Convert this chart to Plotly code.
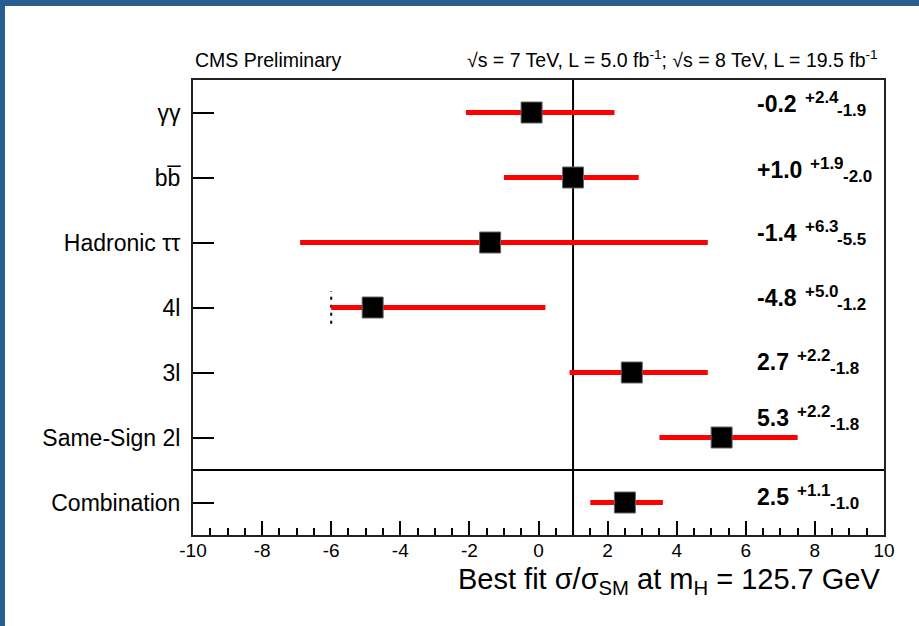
import plotly.graph_objects as go

# ---------------- data ----------------
channels = ["γγ", "bb\u0305", "Hadronic ττ", "4l", "3l", "Same-Sign 2l", "Combination"]
best_fit = [-0.2, 1.0, -1.4, -4.8, 2.7, 5.3, 2.5]
err_plus = [2.4, 1.9, 6.3, 5.0, 2.2, 2.2, 1.1]
err_minus = [1.9, 2.0, 5.5, 1.2, 1.8, 1.8, 1.0]
value_labels = ["-0.2", "+1.0", "-1.4", "-4.8", "2.7", "5.3", "2.5"]
row_pos = [6.5, 5.5, 4.5, 3.5, 2.5, 1.5, 0.5]
x_ticks = [-10, -8, -6, -4, -2, 0, 2, 4, 6, 8, 10]
sm_ref = 1.0
separator = 1.0
boundary_channel = "4l"

# ---------------- style ----------------
FONT = "Liberation Sans, Arial, Helvetica, sans-serif"
W, H = 919, 626
ML, MR, MT, MB = 193, 35, 80, 91
PW, PH = W - ML - MR, H - MT - MB
label_yshift = [9, 8, 10, 10, 11, 20, 6]
MAIN_SIZE, SCRIPT_SIZE = 23, 17
LABEL_LEFT_PX = 755
# approximate bold Arial advance widths (em)
CW = {"-": 0.333, "+": 0.584, ".": 0.278}


def text_w(s, size):
    return sum(CW.get(c, 0.556) for c in s) * size


fig = go.Figure()

# boundary (dashed) marker for 4l lower edge
bi = channels.index(boundary_channel)
bx = best_fit[bi] - err_minus[bi]
fig.add_trace(go.Scatter(
    x=[bx, bx], y=[row_pos[bi] - 0.25, row_pos[bi] + 0.25],
    mode="lines", line=dict(color="black", width=2, dash="3px,5px"),
    hoverinfo="skip", showlegend=False))

fig.add_trace(go.Scatter(
    x=best_fit, y=row_pos, mode="markers",
    marker=dict(symbol="square", size=21, color="black",
                line=dict(color="#666", width=1)),
    error_x=dict(type="data", symmetric=False, array=err_plus,
                 arrayminus=err_minus, color="#FF0000", thickness=5, width=0),
    showlegend=False))

shapes = [
    dict(type="line", xref="x", yref="paper", x0=sm_ref, x1=sm_ref, y0=0, y1=1,
         line=dict(color="black", width=2), layer="below"),
    dict(type="line", xref="paper", yref="y", x0=0, x1=1, y0=separator, y1=separator,
         line=dict(color="black", width=2)),
    # blue frame
    dict(type="rect", xref="paper", yref="paper",
         x0=-ML / PW, x1=(W - ML) / PW,
         y0=1 + (MT - 6) / PH, y1=1 + MT / PH,
         fillcolor="#285E91", line=dict(width=0)),
    dict(type="rect", xref="paper", yref="paper",
         x0=-ML / PW, x1=-(ML - 5) / PW,
         y0=-MB / PH, y1=1 + MT / PH,
         fillcolor="#285E91", line=dict(width=0)),
]

annotations = []
for i in range(len(channels)):
    main = value_labels[i]
    sup = f"+{err_plus[i]:.1f}"
    sub = f"-{err_minus[i]:.1f}"
    x_main = LABEL_LEFT_PX
    x_sup = x_main + text_w(main, MAIN_SIZE) + 8
    x_sub = x_sup + text_w(sup, SCRIPT_SIZE) - 1
    ys = label_yshift[i]
    for txt, xp, size, dy in [(main, x_main, MAIN_SIZE, ys),
                              (sup, x_sup, SCRIPT_SIZE, ys + 6),
                              (sub, x_sub, SCRIPT_SIZE, ys - 7)]:
        annotations.append(dict(
            x=(xp - ML) / PW, y=row_pos[i], xref="paper", yref="y",
            xanchor="left", yanchor="middle", yshift=dy, showarrow=False,
            text=f"<b>{txt}</b>",
            font=dict(family=FONT, size=size, color="black")))

annotations += [
    dict(x=0, y=1 + 20 / PH, xref="paper", yref="paper", xanchor="left",
         yanchor="middle", showarrow=False, text="CMS Preliminary",
         font=dict(family=FONT, size=19.5, color="black")),
    dict(x=1 - 4 / PW, y=1 + 21 / PH, xref="paper", yref="paper",
         xanchor="right", yanchor="middle", showarrow=False,
         text="√s = 7 TeV, L = 5.0 fb<sup>-1</sup>; √s = 8 TeV, L = 19.5 fb<sup>-1</sup>",
         font=dict(family=FONT, size=19.5, color="black")),
    dict(x=1 - 2 / PW, y=-46 / PH, xref="paper", yref="paper",
         xanchor="right", yanchor="middle", showarrow=False,
         text="Best fit σ/σ<sub>SM</sub> at m<sub>H</sub> = 125.7 GeV",
         font=dict(family=FONT, size=29, color="black")),
]

fig.update_layout(
    width=W, height=H,
    margin=dict(l=ML, r=MR, t=MT, b=MB, pad=0),
    paper_bgcolor="white", plot_bgcolor="white",
    font=dict(family=FONT, color="black"),
    shapes=shapes, annotations=annotations,
    xaxis=dict(range=[-10, 10], tickvals=x_ticks, ticktext=[str(t) for t in x_ticks],
               ticks="inside", ticklen=14, tickwidth=1.5, tickcolor="black",
               minor=dict(dtick=0.5, ticks="inside", ticklen=7, tickwidth=1.5, tickcolor="black"),
               showline=True, linecolor="#222", linewidth=2, mirror=True,
               showgrid=False, zeroline=False, ticklabelstandoff=-3,
               tickfont=dict(family=FONT, size=19, color="black")),
    yaxis=dict(range=[0, 7], tickvals=row_pos, ticktext=channels,
               ticks="inside", ticklen=21, tickwidth=1.5, tickcolor="black",
               showline=True, linecolor="#222", linewidth=2, mirror=True,
               showgrid=False, zeroline=False, ticklabelstandoff=6,
               tickfont=dict(family=FONT, size=23, color="black")),
)

fig.write_html("out.html", config={"displayModeBar": False},
               post_script="document.body.style.margin='0px';document.body.style.overflow='hidden';")
